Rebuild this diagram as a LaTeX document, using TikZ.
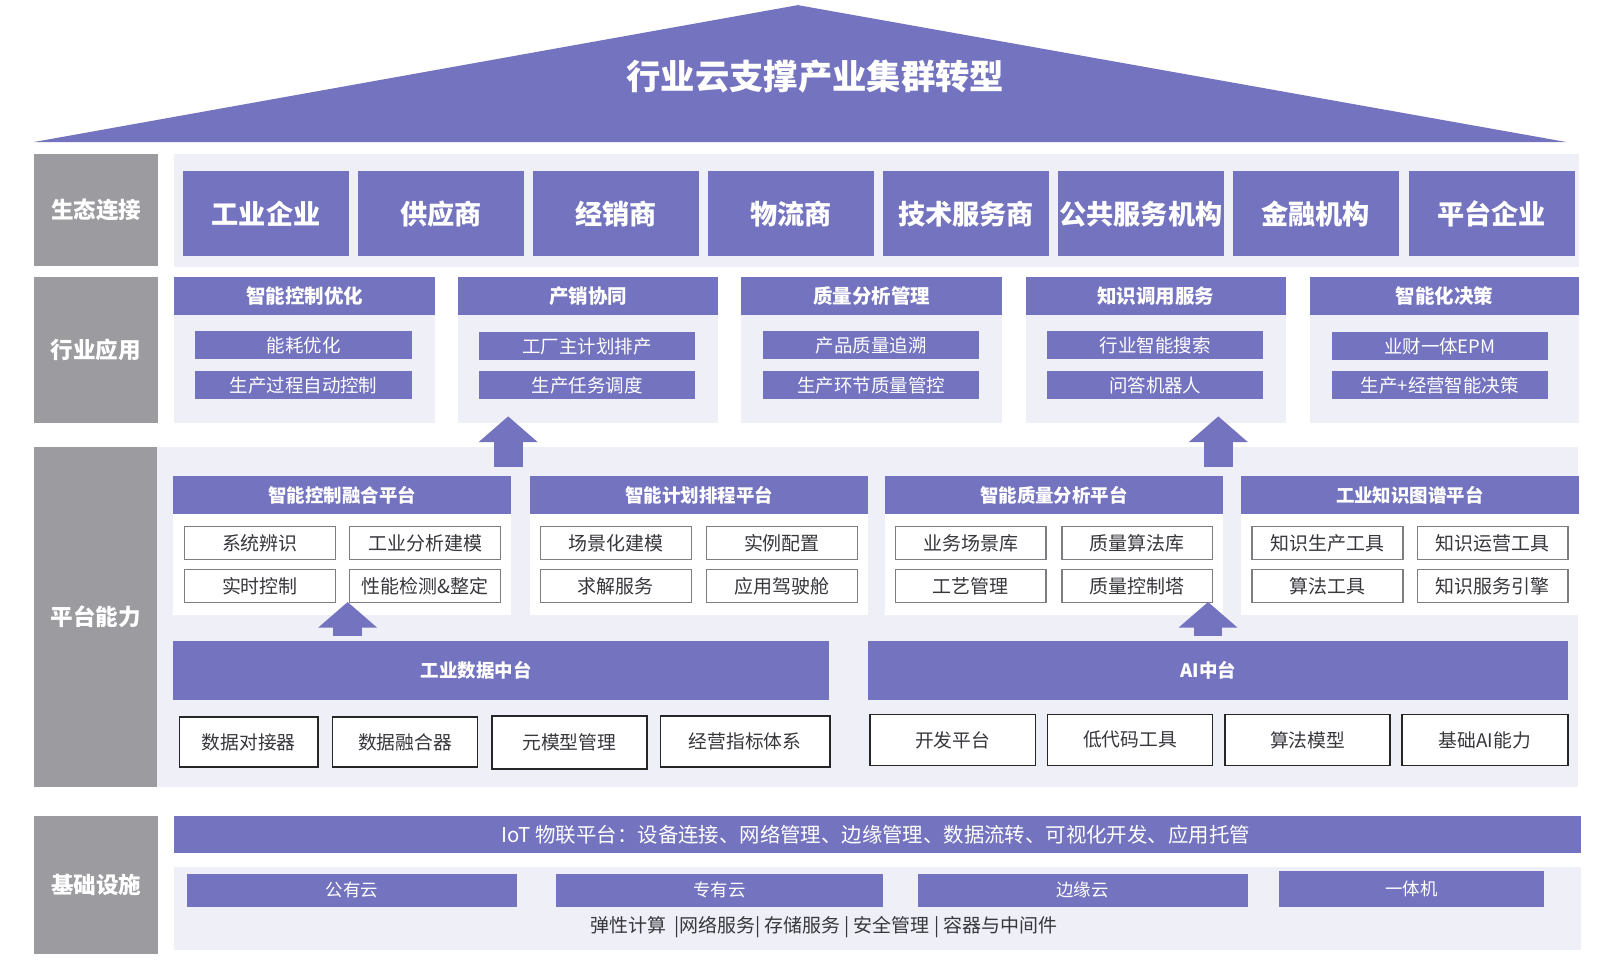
\documentclass[tikz,border=0pt]{standalone}
\usepackage{fontspec}
\setmainfont{Noto Sans CJK SC}
\usetikzlibrary{arrows.meta}

\definecolor{mainpurple}{RGB}{116,115,191}
\definecolor{panelbg}{RGB}{239,239,247}
\definecolor{labelgray}{RGB}{155,155,160}
\definecolor{itemtext}{RGB}{55,55,60}
\definecolor{itemedge}{RGB}{125,125,130}

\newcommand{\fsz}[1]{\fontsize{#1}{#1}\selectfont}

\begin{document}
\begin{tikzpicture}[x=1pt, y=-1pt,
    box/.style={anchor=north west, inner sep=0pt, outer sep=0pt},
    rowlabel/.style={box, fill=labelgray, text=white, minimum width=121pt, font=\fsz{22}\bfseries},
    panel/.style={box, fill=panelbg},
    ecobox/.style={box, fill=mainpurple, text=white, minimum width=162pt, minimum height=83pt, font=\fsz{26.5}\bfseries},
    apphead/.style={box, fill=mainpurple, text=white, minimum height=37pt, font=\fsz{19}\bfseries},
    appitem/.style={box, fill=mainpurple, text=white, minimum width=211pt, minimum height=28pt, font=\fsz{18}},
    plathead/.style={box, fill=mainpurple, text=white, minimum width=329.5pt, minimum height=37pt, font=\fsz{18}\bfseries},
    platbody/.style={box, fill=white, minimum width=329.5pt, minimum height=98.5pt},
    platitem/.style={box, fill=white, draw=itemedge, line width=1.3pt, text=itemtext, minimum width=147pt, minimum height=32pt, font=\fsz{18.5}},
    midbar/.style={box, fill=mainpurple, minimum height=57.5pt},
    midtext/.style={text=white, font=\fsz{18}\bfseries},
    toolbox/.style={box, fill=white, draw=black!85, line width=1.3pt, text=itemtext, minimum height=50pt, font=\fsz{18.3}},
    cloudbar/.style={box, fill=mainpurple, text=white, minimum height=32pt, font=\fsz{17}},
    uparrow/.style={draw=mainpurple, line width=28pt, -{Triangle[width=56pt, length=25pt]}}]

    \useasboundingbox (0,0) rectangle (1568,945);

    % Roof
    \fill[mainpurple] (33,138.5) -- (778,5) -- (1527.5,138.5) -- cycle;
    \node[text=white, font=\fsz{33.5}\bfseries] (title) at (795,75) {行业云支撑产业集群转型};

    % Row labels
    \node[rowlabel, minimum height=109pt] (lab1) at (33.5,150) {生态连接};
    \node[rowlabel, minimum height=142pt] (lab2) at (33,270) {行业应用};
    \node[rowlabel, minimum height=331pt] (lab3) at (33,436) {平台能力};
    \node[rowlabel, minimum height=134pt] (lab4) at (33.5,796) {基础设施};

    % Ecosystem
    \node[panel, minimum width=1370pt, minimum height=110pt] (ecopanel) at (170,150) {};
    \node[ecobox] (eco1) at (178.5,167) {工业企业};
    \node[ecobox] (eco2) at (349.3,167) {供应商};
    \node[ecobox] (eco3) at (520,167) {经销商};
    \node[ecobox] (eco4) at (690.5,167) {物流商};
    \node[ecobox] (eco5) at (861,167) {技术服务商};
    \node[ecobox] (eco6) at (1031.5,167) {公共服务机构};
    \node[ecobox] (eco7) at (1202,167) {金融机构};
    \node[ecobox] (eco8) at (1373.5,167) {平台企业};

    % Industry applications
    \node[panel, minimum width=254pt, minimum height=104.5pt] (app1) at (170,307.5) {};
    \node[apphead, minimum width=254pt] (apph1) at (170,270.5) {智能控制优化};
    \node[appitem] (app1a) at (190.5,322.5) {能耗优化};
    \node[appitem] (app1b) at (190.5,361.5) {生产过程自动控制};

    \node[panel, minimum width=254pt, minimum height=104.5pt] (app2) at (446.5,307.5) {};
    \node[apphead, minimum width=254pt] (apph2) at (446.5,270.5) {产销协同};
    \node[appitem] (app2a) at (467,323.5) {工厂主计划排产};
    \node[appitem] (app2b) at (467,361.5) {生产任务调度};

    \node[panel, minimum width=254pt, minimum height=104.5pt] (app3) at (723,307.5) {};
    \node[apphead, minimum width=254pt] (apph3) at (723,270.5) {质量分析管理};
    \node[appitem] (app3a) at (744,322.5) {产品质量追溯};
    \node[appitem] (app3b) at (744,361.5) {生产环节质量管控};

    \node[panel, minimum width=254pt, minimum height=104.5pt] (app4) at (1000,307.5) {};
    \node[apphead, minimum width=254pt] (apph4) at (1000,270.5) {知识调用服务};
    \node[appitem] (app4a) at (1021,322.5) {行业智能搜索};
    \node[appitem] (app4b) at (1021,361.5) {问答机器人};

    \node[panel, minimum width=263pt, minimum height=104.5pt] (app5) at (1277,307.5) {};
    \node[apphead, minimum width=263pt] (apph5) at (1277,270.5) {智能化决策};
    \node[appitem] (app5a) at (1298.5,323.5) {业财一体EPM};
    \node[appitem] (app5b) at (1298.5,361.5) {生产+经营智能决策};

    % Platform capabilities
    \node[panel, minimum width=1386pt, minimum height=331pt] (platpanel) at (153,436) {};

    \node[platbody] (platA) at (169,501.5) {};
    \node[plathead] (platAh) at (169,464.5) {智能控制融合平台};
    \node[platitem] (pA1) at (180,513.5) {系统辨识};
    \node[platitem] (pA2) at (341,513.5) {工业分析建模};
    \node[platitem] (pA3) at (180,555.5) {实时控制};
    \node[platitem] (pA4) at (341,555.5) {性能检测\&整定};

    \node[platbody] (platB) at (517,501.5) {};
    \node[plathead] (platBh) at (517,464.5) {智能计划排程平台};
    \node[platitem] (pB1) at (527,513.5) {场景化建模};
    \node[platitem] (pB2) at (689,513.5) {实例配置};
    \node[platitem] (pB3) at (527,555.5) {求解服务};
    \node[platitem] (pB4) at (689,555.5) {应用驾驶舱};

    \node[platbody] (platC) at (863,501.5) {};
    \node[plathead] (platCh) at (863,464.5) {智能质量分析平台};
    \node[platitem] (pC1) at (873,513.5) {业务场景库};
    \node[platitem] (pC2) at (1035.5,513.5) {质量算法库};
    \node[platitem] (pC3) at (873,555.5) {工艺管理};
    \node[platitem] (pC4) at (1035.5,555.5) {质量控制塔};

    \node[platbody] (platD) at (1210,501.5) {};
    \node[plathead] (platDh) at (1210,464.5) {工业知识图谱平台};
    \node[platitem] (pD1) at (1221,513.5) {知识生产工具};
    \node[platitem] (pD2) at (1382,513.5) {知识运营工具};
    \node[platitem] (pD3) at (1221,555.5) {算法工具};
    \node[platitem] (pD4) at (1382,555.5) {知识服务引擎};

    % Data and AI middle platforms
    \node[midbar, minimum width=639pt] (datamid) at (169,625.5) {};
    \node[midtext] (datamidtext) at (464.5,654) {工业数据中台};
    \node[midbar, minimum width=682.5pt] (aimid) at (846,625.5) {};
    \node[midtext] (aimidtext) at (1178.5,654) {AI中台};

    \node[toolbox, minimum width=135pt, minimum height=49pt] (d1) at (175,699) {数据对接器};
    \node[toolbox, minimum width=141pt, minimum height=49pt] (d2) at (324.5,699) {数据融合器};
    \node[toolbox, minimum width=151pt, minimum height=52pt, line width=1.8pt] (d3) at (479.5,698) {元模型管理};
    \node[toolbox, minimum width=165pt, line width=1.8pt] (d4) at (644,698) {经营指标体系};

    \node[toolbox, minimum width=161pt] (ai1) at (848.5,696.5) {开发平台};
    \node[toolbox, minimum width=161pt] (ai2) at (1021.5,696.5) {低代码工具};
    \node[toolbox, minimum width=161pt] (ai3) at (1194.5,696.5) {算法模型};
    \node[toolbox, minimum width=162pt] (ai4) at (1367,696.5) {基础AI能力};

    % Up arrows
    \coordinate (a1s) at (495.5,455);
    \coordinate (a1e) at (495.5,406);
    \coordinate (a2s) at (1188,455);
    \coordinate (a2e) at (1188,406);
    \coordinate (a3s) at (339,620);
    \coordinate (a3e) at (339,587);
    \coordinate (a4s) at (1178,620);
    \coordinate (a4e) at (1178,587);
    \draw[uparrow] (a1s) -- (a1e);
    \draw[uparrow] (a2s) -- (a2e);
    \draw[uparrow] (a3s) -- (a3e);
    \draw[uparrow] (a4s) -- (a4e);

    % Infrastructure
    \node[box, fill=mainpurple, minimum width=1372pt, minimum height=36pt] (iot) at (170,796) {};
    \node[text=white, font=\fsz{19.9}] (iottext) at (854,814) {IoT 物联平台：设备连接、网络管理、边缘管理、数据流转、可视化开发、应用托管};
    \node[panel, minimum width=1372pt, minimum height=81pt] (infpanel) at (170,845) {};
    \node[cloudbar, minimum width=321.5pt] (c1) at (182.3,852) {公有云};
    \node[cloudbar, minimum width=319pt] (c2) at (542,852) {专有云};
    \node[cloudbar, minimum width=321.5pt] (c3) at (895,852) {边缘云};
    \node[cloudbar, minimum width=259pt, minimum height=34.5pt] (c4) at (1247,849.5) {一体机};
    \node[text=itemtext, font=\fsz{18.5}] (services) at (803.5,903.5) {弹性计算 \,|网络服务| 存储服务 | 安全管理 | 容器与中间件};
\end{tikzpicture}
\end{document}
